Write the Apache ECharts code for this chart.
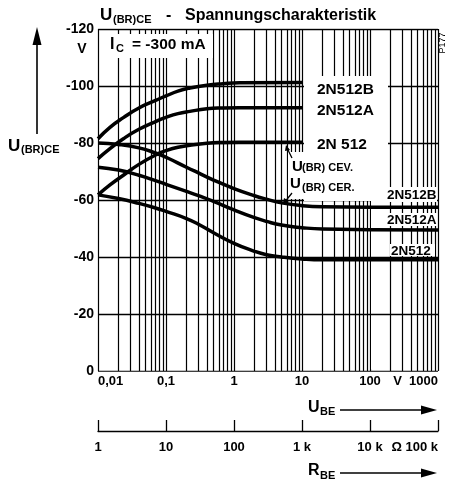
<!DOCTYPE html>
<html><head><meta charset="utf-8">
<script src="https://cdn.jsdelivr.net/npm/echarts@6/dist/echarts.min.js"></script>
<style>html,body{margin:0;padding:0;background:#fff}#c{width:451px;height:485px}</style>
</head><body><div id="c"></div>
<script>
// ---- data ----
const ubeTickLabels = ['0,01', '0,1', '1', '10', '100', 'V  1000'];
const rbeTickLabels = ['1', '10', '100', '1 k', '10 k', 'Ω 100 k'];
const yTicks = [-120, -100, -80, -60, -40, -20, 0];
const gridDecades = [0.01, 0.1, 1, 10, 100];
const gridMults = [1, 2, 3, 4, 5, 6, 7, 8, 9];

// U(BR)CEV curves (rising), end at U_BE = 10 V
const cevX = [0.01, 0.015, 0.0236, 0.04, 0.073, 0.1, 0.15, 0.225, 0.4, 0.69, 1.2, 10];
const cev2N512B = [-81.5, -85.5, -88.9, -92.3, -95.1, -96.5, -98.2, -99.3, -100.3, -100.8, -101.1, -101.2];
const cev2N512A = [-74.5, -78, -81.5, -84.8, -87.7, -89, -90.3, -91.1, -92, -92.3, -92.4, -92.4];
const cev2N512 = [-61.8, -65.3, -68.7, -72.5, -76, -77.3, -78.5, -79.2, -79.9, -80.2, -80.3, -80.3];

// U(BR)CER curves (falling)
const cerX = [0.01, 0.02, 0.04, 0.07, 0.1, 0.2, 0.3, 0.5, 1, 2, 3, 5, 10, 20, 100, 1000];
const cer2N512B = [-80, -79.5, -78.3, -76.5, -75, -71.5, -69.5, -67, -64, -61.5, -60.3, -59, -58, -57.6, -57.5, -57.5];
const cer2N512A = [-71.5, -70.5, -68.7, -66.8, -65.5, -63, -61.5, -59.5, -56.5, -53.8, -52.5, -51.2, -50.3, -49.8, -49.6, -49.5];
const cer2N512 = [-61.8, -60.5, -58.8, -57.2, -56, -53.5, -51.5, -48.5, -44.8, -42, -40.8, -40, -39.3, -39, -39, -39];

// ---- build ----
const FONT = '"Liberation Sans", Arial, sans-serif';
const zip = (xs, ys) => xs.map((x, i) => [x, ys[i]]);
const gridXs = [];
gridDecades.forEach(d => gridMults.forEach(m => gridXs.push(+(d * m).toPrecision(3))));
gridXs.push(1000);
const vLines = gridXs.map(x => ({coords: [[x, -120], [x, 0]]}));
const hLines = yTicks.map(y => ({coords: [[0.01, y], [1000, y]]}));

function curve(name, xs, ys) {
  return {
    name, type: 'line', xAxisIndex: 0, yAxisIndex: 0, z: 5,
    data: zip(xs, ys), smooth: 0.5,
    symbol: 'none', silent: true, animation: false,
    lineStyle: {color: '#000', width: 3.5, cap: 'butt', join: 'round'}
  };
}
function T(text, x, y, size, extra) {
  return Object.assign({
    type: 'text', z: 6, x: x, y: y, silent: true,
    style: {text: text, fontSize: size, fontWeight: 'bold', fontFamily: FONT, fill: '#000', align: 'left', verticalAlign: 'middle'}
  }, extra || {});
}
function R(x, y, w, h, z) {
  return {type: 'rect', z: z, silent: true, shape: {x: x, y: y, width: w, height: h}, style: {fill: '#fff'}};
}
function L(pts, w) {
  return {type: 'polyline', z: 6, silent: true, shape: {points: pts}, style: {stroke: '#000', lineWidth: w || 1.3, fill: null}};
}
function P(pts) {
  return {type: 'polygon', z: 6, silent: true, shape: {points: pts}, style: {fill: '#000'}};
}

const chart = echarts.init(document.getElementById('c'));
chart.setOption({
  animation: false,
  backgroundColor: '#fff',
  grid: [
    {left: 98, right: 13, top: 29, bottom: 114},
    {left: 98, right: 13, top: 420, height: 11}
  ],
  xAxis: [
    {type: 'log', logBase: 10, min: 0.01, max: 1000, gridIndex: 0, splitNumber: 5,
     axisLine: {show: false}, axisTick: {show: false}, splitLine: {show: false},
     axisLabel: {margin: 4, fontSize: 13, fontWeight: 'bold', fontFamily: FONT, color: '#000',
       alignMinLabel: 'left', alignMaxLabel: 'right',
       formatter: v => ubeTickLabels[Math.round(Math.log10(v)) + 2]}},
    {type: 'log', logBase: 10, min: 1, max: 100000, gridIndex: 1, splitNumber: 5, position: 'bottom',
     axisLine: {show: true, lineStyle: {color: '#000', width: 1.3}},
     axisTick: {show: true, inside: true, length: 11, lineStyle: {color: '#000', width: 1.3}},
     splitLine: {show: false},
     axisLabel: {margin: 10, fontSize: 13, fontWeight: 'bold', fontFamily: FONT, color: '#000',
       alignMinLabel: 'center', alignMaxLabel: 'right',
       formatter: v => rbeTickLabels[Math.round(Math.log10(v))]}}
  ],
  yAxis: [
    {type: 'value', inverse: true, min: -120, max: 0, interval: 20, gridIndex: 0,
     axisLine: {show: false}, axisTick: {show: false}, splitLine: {show: false},
     axisLabel: {margin: 4, fontSize: 14, fontWeight: 'bold', fontFamily: FONT, color: '#000'}},
    {type: 'value', min: 0, max: 1, gridIndex: 1, show: false}
  ],
  series: [
    {name: 'gridV', type: 'lines', coordinateSystem: 'cartesian2d', xAxisIndex: 0, yAxisIndex: 0, z: 1,
     silent: true, animation: false, data: vLines, lineStyle: {color: '#000', width: 1.2, opacity: 1}},
    {name: 'gridH', type: 'lines', coordinateSystem: 'cartesian2d', xAxisIndex: 0, yAxisIndex: 0, z: 3,
     silent: true, animation: false, data: hLines, lineStyle: {color: '#000', width: 1.3, opacity: 1}},
    {name: 'rbe', type: 'line', xAxisIndex: 1, yAxisIndex: 1, data: [], silent: true},
    curve('2N512B CEV', cevX, cev2N512B),
    curve('2N512A CEV', cevX, cev2N512A),
    curve('2N512 CEV', cevX, cev2N512),
    curve('2N512B CER', cerX, cer2N512B),
    curve('2N512A CER', cerX, cer2N512A),
    curve('2N512 CER', cerX, cer2N512)
  ],
  graphic: [
    // white label areas
    R(371, 202, 17, 167, 2),
    R(100, 34, 113, 24, 4),
    R(304, 76, 84, 125, 4),
    R(288, 152, 16, 47, 4),
    R(371, 187, 66, 15, 4),
    R(386, 213, 51, 13, 4),
    R(390, 244, 45, 12, 4),
    // title
    T('U', 100, 15.5, 17),
    T('(BR)CE', 113, 19.5, 11),
    T('-', 166, 15.5, 16),
    T('Spannungscharakteristik', 185, 15.5, 16),
    // I_C
    T('I', 110, 44.5, 16),
    T('C', 116, 48.5, 11),
    T('= -300 mA', 132, 45, 15.5),
    // y unit
    T('V', 82, 49, 14, {style: {text: 'V', fontSize: 14, fontWeight: 'bold', fontFamily: FONT, fill: '#000', align: 'center', verticalAlign: 'middle'}}),
    // P177
    T('P177', 443, 43, 9, {rotation: Math.PI / 2, style: {text: 'P177', fontSize: 9, fontFamily: FONT, fill: '#000', align: 'center', verticalAlign: 'middle'}}),
    // CEV labels
    T('2N512B', 317, 90, 15.5),
    T('2N512A', 317, 111, 15.5),
    T('2N 512', 317, 145, 15.5),
    T('U', 292, 166.5, 15),
    T('(BR) CEV.', 302, 168, 11),
    T('U', 290, 183.5, 15),
    T('(BR) CER.', 302, 187.5, 11),
    L([[292, 158], [289, 152], [287, 147]]),
    P([[286, 145], [285, 151], [290, 150]]),
    L([[292, 193], [288, 198], [285, 202]]),
    P([[283, 204], [284, 198], [289, 201]]),
    // CER labels
    T('2N512B', 387, 195, 13.5),
    T('2N512A', 387, 220, 13.5),
    T('2N512', 391, 251, 13.5),
    // left axis title and arrow
    T('U', 8, 146, 17),
    T('(BR)CE', 21, 150, 11),
    L([[37, 44], [37, 134]], 1.6),
    P([[37, 27], [32.5, 45], [41.5, 45]]),
    // U_BE
    T('U', 308, 408, 16),
    T('BE', 320, 412, 11),
    L([[340, 410], [422, 410]], 1.3),
    P([[437, 410], [421, 405.5], [421, 414.5]]),
    // R_BE
    T('R', 308, 471, 16),
    T('BE', 320, 476, 11),
    L([[340, 473], [422, 473]], 1.3),
    P([[437, 473], [421, 468.5], [421, 477.5]])
  ]
});
</script>
</body></html>
